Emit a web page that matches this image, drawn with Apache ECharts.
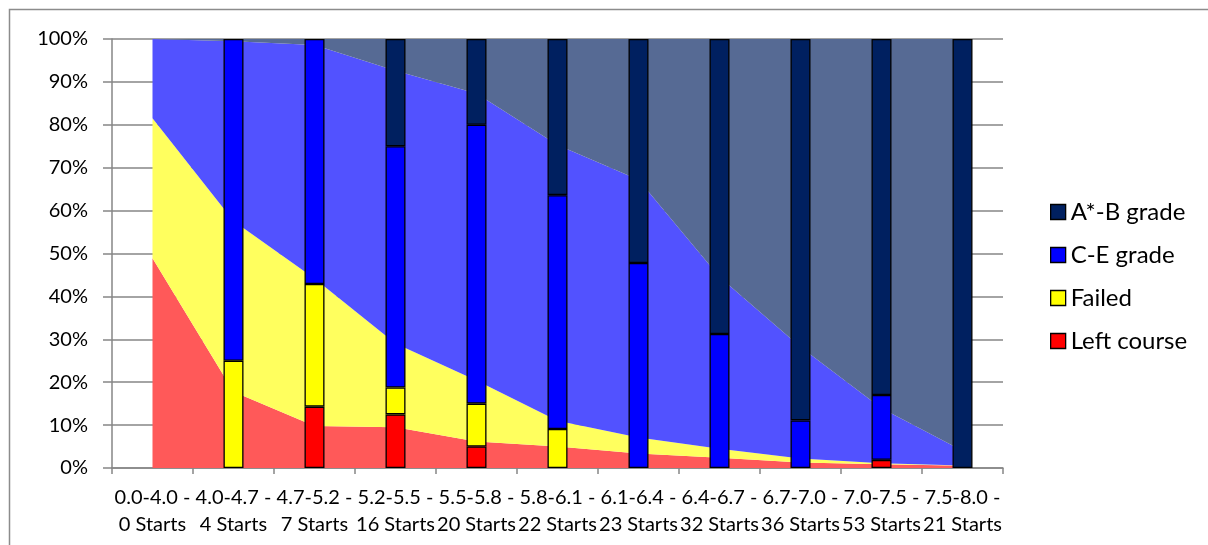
<!DOCTYPE html>
<html>
<head>
<meta charset="utf-8">
<script src="https://cdn.jsdelivr.net/npm/echarts@6/dist/echarts.min.js"></script>
<style>
html,body{margin:0;padding:0;background:#fff;}
#chart{width:1208px;height:545px;}
</style>
</head>
<body>
<div id="chart"></div>
<script>
// Categories (grade band - number of starts)
const categories = ["0.0-4.0 - 0 Starts","4.0-4.7 - 4 Starts","4.7-5.2 - 7 Starts","5.2-5.5 - 16 Starts","5.5-5.8 - 20 Starts","5.8-6.1 - 22 Starts","6.1-6.4 - 23 Starts","6.4-6.7 - 32 Starts","6.7-7.0 - 36 Starts","7.0-7.5 - 53 Starts","7.5-8.0 - 21 Starts"];

// Bar values (% of starts in each band)
const barLeft   = [null, null, 14.3, 12.5, 5.0, null, null, null, null, 1.9, null];
const barFailed = [null, 25.0, 28.6, 6.25, 10.0, 9.1, null, null, null, null, null];
const barCE     = [null, 75.0, 57.1, 56.25, 65.0, 54.5, 47.8, 31.25, 11.1, 15.1, null];
const barAB     = [null, null, null, 25.0, 20.0, 36.4, 52.2, 68.75, 88.9, 83.0, 100];

// Background trend areas (% per band)
const areaLeft   = [48.9, 17.8, 9.8, 9.5, 6.2, 5.0, 3.4, 2.4, 1.3, 0.9, 0.5];
const areaFailed = [32.6, 39.8, 34.4, 19.5, 14.2, 6.0, 3.7, 2.1, 0.9, 0.2, 0.1];
const areaCE     = [18.5, 41.9, 54.4, 63.6, 66.9, 64.3, 60.1, 40.0, 26.0, 12.8, 3.4];
const areaAB     = [0.0, 0.5, 1.4, 7.4, 12.7, 24.7, 32.8, 55.5, 71.8, 86.1, 96.0];

const yTicks = [0,10,20,30,40,50,60,70,80,90,100];

const seriesNames = ["Left course","Failed","C-E grade","A*-B grade"];
const colors = ["#FF0000","#FFFF00","#0000FF","#002060"];
const areaColors = ["#FF5959","#FFFF5E","#5252FF","#566A94"];

const chart = echarts.init(document.getElementById('chart'), null, {renderer:'canvas'});
const FONT = 'Lato';
const areaData = [areaLeft, areaFailed, areaCE, areaAB];
const barData = [barLeft, barFailed, barCE, barAB];

const series = [];
areaData.forEach((d,i)=>{
  series.push({
    name: seriesNames[i] + ' trend',
    type: 'line',
    stack: 'area',
    data: d,
    symbol: 'none',
    showSymbol: false,
    lineStyle: {width: 0},
    itemStyle: {color: areaColors[i]},
    areaStyle: {color: areaColors[i], opacity: 1},
    silent: true,
    z: 1
  });
});
barData.forEach((d,i)=>{
  series.push({
    name: seriesNames[i],
    type: 'bar',
    stack: 'bar',
    data: d,
    barWidth: 20,
    itemStyle: {color: colors[i], borderColor: '#000', borderWidth: 1.3},
    z: 3
  });
});

chart.setOption({
  animation: false,
  backgroundColor: '#fff',
  graphic: [{
    type: 'rect',
    shape: {x: 9.5, y: 9.5, width: 1300, height: 700},
    style: {fill: 'none', stroke: '#8c8c8c', lineWidth: 1.5},
    silent: true, z: 0
  }],
  grid: {left: 112, right: 205, top: 39, bottom: 77, containLabel: false},
  legend: {
    data: ["A*-B grade","C-E grade","Failed","Left course"],
    orient: 'vertical',
    left: 1045,
    top: 195,
    icon: 'rect',
    itemWidth: 15,
    itemHeight: 15,
    itemGap: 19,
    itemStyle: {borderColor: '#000', borderWidth: 1.3},
    textStyle: {fontFamily: FONT, fontSize: 24, color: '#000'}
  },
  xAxis: {
    type: 'category',
    data: categories,
    boundaryGap: true,
    axisLine: {lineStyle: {color: '#868686', width: 1.5}},
    axisTick: {show: true, length: 6, lineStyle: {color: '#868686', width: 1.5}},
    axisLabel: {
      interval: 0,
      margin: 16,
      color: '#000',
      fontFamily: FONT,
      fontSize: 20,
      lineHeight: 27,
      formatter: v => v.replace(' - ', ' -\n')
    },
    splitLine: {show: false}
  },
  yAxis: {
    type: 'value',
    min: yTicks[0],
    max: yTicks[yTicks.length-1],
    interval: 10,
    axisLine: {show: true, lineStyle: {color: '#868686', width: 1.5}},
    axisTick: {show: true, length: 9, lineStyle: {color: '#868686', width: 1.5}},
    axisLabel: {color: '#000', fontFamily: FONT, fontSize: 20, margin: 24, formatter: '{value}%'},
    splitLine: {show: true, lineStyle: {color: '#868686', width: 1.5}}
  },
  series: series
});
</script>
</body>
</html>
